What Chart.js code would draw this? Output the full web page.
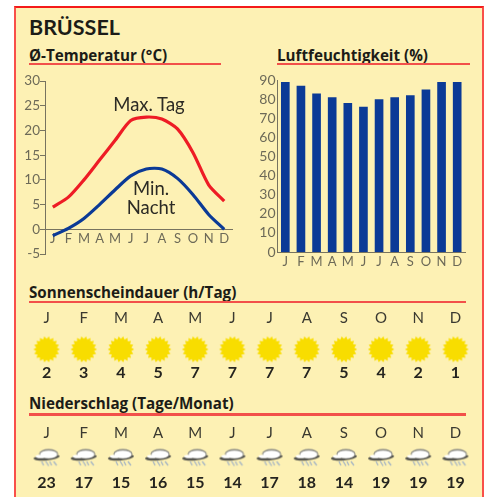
<!DOCTYPE html>
<html>
<head>
<meta charset="utf-8">
<title>Brüssel</title>
<script src="https://cdn.jsdelivr.net/npm/chart.js@4"></script>
<style>
    html, body { margin: 0; padding: 0; background: #fff; }
    #page { position: relative; width: 488px; height: 497px; overflow: hidden; font-family: Lato, sans-serif; }
    #panel { position: absolute; left: 14px; top: 6px; width: 466px; height: 493px; background: #fdf1b4; border: 2px solid #f8504a; border-top-color: #f41a1a; border-bottom: 0; }
    canvas { position: absolute; }
    .head { position: absolute; font-family: "Open Sans", sans-serif; font-weight: 700; font-size: 15.2px; line-height: 16px; color: #1c1c17; white-space: nowrap; }
    .rule { position: absolute; height: 2px; background: #f2504a; }
    .note { position: absolute; font-size: 18.5px; line-height: 19px; color: #2c2b25; text-align: center; white-space: nowrap; transform: translateX(-50%); }
</style>
</head>
<body>
<div id="page">
    <div id="panel"></div>
    <div class="head" style="left:29px;top:15px;font-family:Lato;font-size:21.5px;line-height:24px">BRÜSSEL</div>
    <div class="head" style="left:29px;top:47px">Ø-Temperatur (°C)</div>
    <div class="rule" style="left:29px;top:63px;width:192px"></div>
    <div class="head" style="left:277px;top:47px">Luftfeuchtigkeit (%)</div>
    <div class="rule" style="left:277px;top:63px;width:193px"></div>
    <div class="head" style="left:29px;top:284px">Sonnenscheindauer (h/Tag)</div>
    <div class="rule" style="left:29px;top:301px;width:437px"></div>
    <div class="head" style="left:29px;top:395px">Niederschlag (Tage/Monat)</div>
    <div class="rule" style="left:29px;top:413px;width:437px;height:3px"></div>

    <canvas id="tempChart" style="left:15px;top:70px" width="225" height="195"></canvas>
    <canvas id="humidityChart" style="left:250px;top:70px" width="225" height="200"></canvas>
    <canvas id="sunChart" style="left:28px;top:309px" width="446" height="73"></canvas>
    <canvas id="rainChart" style="left:28px;top:424px" width="446" height="68"></canvas>

    <div class="note" style="left:149px;top:95px">Max. Tag</div>
    <div class="note" style="left:151px;top:179px">Min.<br>Nacht</div>
</div>

<script>
const months = ['J', 'F', 'M', 'A', 'M', 'J', 'J', 'A', 'S', 'O', 'N', 'D'];
const tempMax = [4.5, 6.5, 10, 14, 18, 22, 22.7, 22.3, 20.3, 15.5, 9, 5.7];
const tempMin = [-1.3, 0.2, 2.2, 5, 8, 10.8, 12.2, 12.2, 10.3, 7, 3, 0];
const humidity = [89, 87, 83, 81, 78, 76, 80, 81, 82, 85, 89, 89];
const sunHours = [2, 3, 4, 5, 7, 7, 7, 7, 5, 4, 2, 1];
const rainDays = [23, 17, 15, 16, 15, 14, 17, 18, 14, 19, 19, 19];

const axisColor = '#77735f';
const tickColor = '#6d6a58';
const labelFont = { family: 'Lato', size: 13.5 };
const monthFont = { family: 'Lato', size: 13 };
const valueFont = { family: 'Lato', size: 16, weight: '700' };

// Sun icon for the point style
function makeSun() {
    const c = document.createElement('canvas');
    c.width = 28;
    c.height = 28;
    const g = c.getContext('2d');
    g.fillStyle = '#f8dd00';
    g.beginPath();
    for (let i = 0; i < 36; i++) {
        const r = i % 2 ? 10.5 : 13.2;
        const a = i * Math.PI / 18;
        g.lineTo(14 + r * Math.cos(a), 14 + r * Math.sin(a));
    }
    g.closePath();
    g.fill();
    return c;
}

// Cloud with a dark underside and light blue rain
function makeCloud() {
    const c = document.createElement('canvas');
    c.width = 28;
    c.height = 20;
    const g = c.getContext('2d');
    g.fillStyle = '#55554f';
    g.beginPath();
    g.ellipse(14, 10, 13, 3, -0.1, 0, Math.PI * 2);
    g.fill();
    g.fillStyle = '#8f8f88';
    g.beginPath();
    g.ellipse(16, 6.5, 9.5, 5, 0, 0, Math.PI * 2);
    g.fill();
    g.fillStyle = '#ffffff';
    g.beginPath();
    g.ellipse(16, 7, 8.5, 3.8, 0, 0, Math.PI * 2);
    g.ellipse(8, 9, 5, 1.8, 0, 0, Math.PI * 2);
    g.fill();
    g.strokeStyle = '#a5b5c4';
    g.lineWidth = 1.3;
    g.beginPath();
    g.moveTo(9, 14); g.lineTo(11, 18);
    g.moveTo(13, 13.5); g.lineTo(16, 18.5);
    g.moveTo(17, 14); g.lineTo(19, 18);
    g.moveTo(21, 14); g.lineTo(24, 18);
    g.stroke();
    return c;
}

new Chart(document.getElementById('tempChart'), {
    type: 'line',
    data: {
        labels: months,
        datasets: [
            { data: tempMax, borderColor: '#ee1c25', borderWidth: 3.2, tension: 0.25, pointRadius: 0 },
            { data: tempMin, borderColor: '#0b3a96', borderWidth: 3.2, tension: 0.25, pointRadius: 0 }
        ]
    },
    options: {
        responsive: false,
        animation: false,
        layout: { autoPadding: false, padding: { top: 11, right: 8, bottom: 11, left: 0 } },
        plugins: { legend: { display: false }, tooltip: { enabled: false } },
        scales: {
            x: {
                position: { y: 0 },
                offset: true,
                grid: { display: false, drawTicks: false },
                border: { color: axisColor },
                ticks: { color: tickColor, font: monthFont, padding: 2, autoSkip: false, maxRotation: 0 },
                afterFit: (s) => { s.height = 0; }
            },
            y: {
                min: -5,
                max: 30,
                grid: { drawOnChartArea: false, color: axisColor, tickLength: 5 },
                border: { color: axisColor },
                ticks: { stepSize: 5, color: tickColor, font: labelFont, padding: 0 },
                afterFit: (s) => { s.width = 30; }
            }
        }
    }
});

new Chart(document.getElementById('humidityChart'), {
    type: 'bar',
    data: {
        labels: months,
        datasets: [{ data: humidity, backgroundColor: '#0b3a96', barThickness: 8 }]
    },
    options: {
        responsive: false,
        animation: false,
        layout: { padding: { top: 8, right: 10, bottom: 4, left: 0 } },
        plugins: { legend: { display: false }, tooltip: { enabled: false } },
        scales: {
            x: {
                grid: { display: false, drawTicks: false },
                border: { color: axisColor },
                ticks: { color: tickColor, font: monthFont, padding: 2, autoSkip: false, maxRotation: 0 },
                afterFit: (s) => { s.height = 14; }
            },
            y: {
                min: 0,
                max: 90,
                grid: { display: false, drawTicks: false },
                border: { color: axisColor },
                ticks: { stepSize: 10, autoSkip: false, color: tickColor, font: { family: 'Lato', size: 14 }, padding: 2 },
                afterFit: (s) => { s.width = 27.5; }
            }
        }
    }
});

// Month row on top, icon row in the middle, value row below
function iconRow(canvasId, values, icon, rowLow, rowHigh) {
    new Chart(document.getElementById(canvasId), {
        type: 'line',
        data: {
            labels: months,
            datasets: [{
                data: values.map(() => 0),
                xAxisID: 'x',
                showLine: false,
                pointStyle: icon,
                pointRadius: 14
            }]
        },
        options: {
            responsive: false,
            animation: false,
            layout: { autoPadding: false },
            plugins: { legend: { display: false }, tooltip: { enabled: false } },
            scales: {
                x: {
                    position: 'top',
                    offset: true,
                    grid: { display: false, drawTicks: false },
                    border: { display: false },
                    ticks: { color: '#3a3930', font: { family: 'Lato', size: 15 }, padding: 0, autoSkip: false, maxRotation: 0 }
                },
                values: {
                    position: 'bottom',
                    type: 'category',
                    labels: values.map(String),
                    offset: true,
                    grid: { display: false, drawTicks: false },
                    border: { display: false },
                    ticks: { color: '#25241f', font: valueFont, padding: 0, autoSkip: false, maxRotation: 0 }
                },
                y: { display: false, min: rowLow, max: rowHigh }
            }
        }
    });
}

iconRow('sunChart', sunHours, makeSun(), -0.75, 1.25);
iconRow('rainChart', rainDays, makeCloud(), -1, 1);
</script>
</body>
</html>
